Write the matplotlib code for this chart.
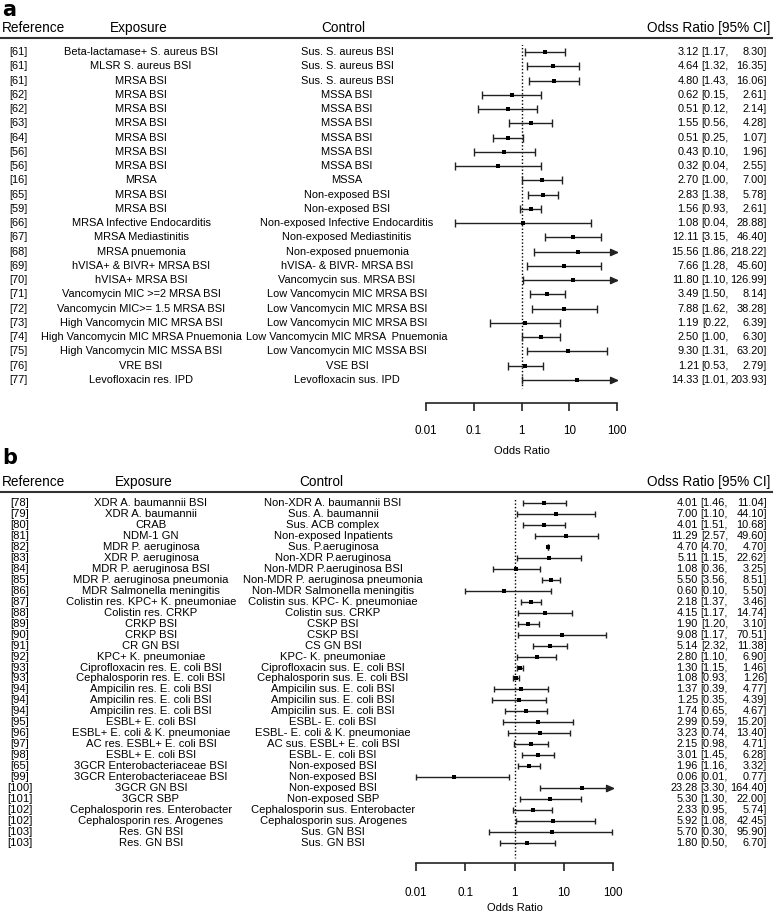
import numpy as np
import matplotlib
matplotlib.use('Agg')
import matplotlib.pyplot as plt
from matplotlib import transforms
from matplotlib.lines import Line2D

plt.rcParams['font.family'] = ['Liberation Sans', 'DejaVu Sans']

W, H = 778, 914

# ---- panel a: Gram-positive ----
a_refs = ['[61]', '[61]', '[61]', '[62]', '[62]', '[63]', '[64]', '[56]', '[56]', '[16]',
          '[65]', '[59]', '[66]', '[67]', '[68]', '[69]', '[70]', '[71]', '[72]', '[73]',
          '[74]', '[75]', '[76]', '[77]']
a_exposure = ['Beta-lactamase+ S. aureus BSI', 'MLSR S. aureus BSI', 'MRSA BSI', 'MRSA BSI',
              'MRSA BSI', 'MRSA BSI', 'MRSA BSI', 'MRSA BSI', 'MRSA BSI', 'MRSA',
              'MRSA BSI', 'MRSA BSI', 'MRSA Infective Endocarditis', 'MRSA Mediastinitis',
              'MRSA pnuemonia', 'hVISA+ & BIVR+ MRSA BSI', 'hVISA+ MRSA BSI',
              'Vancomycin MIC >=2 MRSA BSI', 'Vancomycin MIC>= 1.5 MRSA BSI',
              'High Vancomycin MIC MRSA BSI', 'High Vancomycin MIC MRSA Pnuemonia',
              'High Vancomycin MIC MSSA BSI', 'VRE BSI', 'Levofloxacin res. IPD']
a_control = ['Sus. S. aureus BSI', 'Sus. S. aureus BSI', 'Sus. S. aureus BSI', 'MSSA BSI',
             'MSSA BSI', 'MSSA BSI', 'MSSA BSI', 'MSSA BSI', 'MSSA BSI', 'MSSA',
             'Non-exposed BSI', 'Non-exposed BSI', 'Non-exposed Infective Endocarditis',
             'Non-exposed Mediastinitis', 'Non-exposed pnuemonia', 'hVISA- & BIVR- MRSA BSI',
             'Vancomycin sus. MRSA BSI', 'Low Vancomycin MIC MRSA BSI',
             'Low Vancomycin MIC MRSA BSI', 'Low Vancomycin MIC MRSA BSI',
             'Low Vancomycin MIC MRSA  Pnuemonia', 'Low Vancomycin MIC MSSA BSI',
             'VSE BSI', 'Levofloxacin sus. IPD']
a_or = [3.12, 4.64, 4.80, 0.62, 0.51, 1.55, 0.51, 0.43, 0.32, 2.70, 2.83, 1.56, 1.08,
        12.11, 15.56, 7.66, 11.80, 3.49, 7.88, 1.19, 2.50, 9.30, 1.21, 14.33]
a_lo = [1.17, 1.32, 1.43, 0.15, 0.12, 0.56, 0.25, 0.10, 0.04, 1.00, 1.38, 0.93, 0.04,
        3.15, 1.86, 1.28, 1.10, 1.50, 1.62, 0.22, 1.00, 1.31, 0.53, 1.01]
a_hi = [8.30, 16.35, 16.06, 2.61, 2.14, 4.28, 1.07, 1.96, 2.55, 7.00, 5.78, 2.61, 28.88,
        46.40, 218.22, 45.60, 126.99, 8.14, 38.28, 6.39, 6.30, 63.20, 2.79, 203.93]

# ---- panel b: Gram-negative ----
b_refs = ['[78]', '[79]', '[80]', '[81]', '[82]', '[83]', '[84]', '[85]', '[86]', '[87]',
          '[88]', '[89]', '[90]', '[91]', '[92]', '[93]', '[93]', '[94]', '[94]', '[94]',
          '[95]', '[96]', '[97]', '[98]', '[65]', '[99]', '[100]', '[101]', '[102]', '[102]',
          '[103]', '[103]']
b_exposure = ['XDR A. baumannii BSI', 'XDR A. baumannii', 'CRAB', 'NDM-1 GN',
              'MDR P. aeruginosa', 'XDR P. aeruginosa', 'MDR P. aeruginosa BSI',
              'MDR P. aeruginosa pneumonia', 'MDR Salmonella meningitis',
              'Colistin res. KPC+ K. pneumoniae', 'Colistin res. CRKP', 'CRKP BSI', 'CRKP BSI',
              'CR GN BSI', 'KPC+ K. pneumoniae', 'Ciprofloxacin res. E. coli BSI',
              'Cephalosporin res. E. coli BSI', 'Ampicilin res. E. coli BSI',
              'Ampicilin res. E. coli BSI', 'Ampicilin res. E. coli BSI', 'ESBL+ E. coli BSI',
              'ESBL+ E. coli & K. pneumoniae', 'AC res. ESBL+ E. coli BSI', 'ESBL+ E. coli BSI',
              '3GCR Enterobacteriaceae BSI', '3GCR Enterobacteriaceae BSI', '3GCR GN BSI',
              '3GCR SBP', 'Cephalosporin res. Enterobacter', 'Cephalosporin res. Arogenes',
              'Res. GN BSI', 'Res. GN BSI']
b_control = ['Non-XDR A. baumannii BSI', 'Sus. A. baumannii', 'Sus. ACB complex',
             'Non-exposed Inpatients', 'Sus. P.aeruginosa', 'Non-XDR P.aeruginosa',
             'Non-MDR P.aeruginosa BSI', 'Non-MDR P. aeruginosa pneumonia',
             'Non-MDR Salmonella meningitis', 'Colistin sus. KPC- K. pneumoniae',
             'Colistin sus. CRKP', 'CSKP BSI', 'CSKP BSI', 'CS GN BSI', 'KPC- K. pneumoniae',
             'Ciprofloxacin sus. E. coli BSI', 'Cephalosporin sus. E. coli BSI',
             'Ampicilin sus. E. coli BSI', 'Ampicilin sus. E. coli BSI',
             'Ampicilin sus. E. coli BSI', 'ESBL- E. coli BSI', 'ESBL- E. coli & K. pneumoniae',
             'AC sus. ESBL+ E. coli BSI', 'ESBL- E. coli BSI', 'Non-exposed BSI',
             'Non-exposed BSI', 'Non-exposed BSI', 'Non-exposed SBP',
             'Cephalosporin sus. Enterobacter', 'Cephalosporin sus. Arogenes',
             'Sus. GN BSI', 'Sus. GN BSI']
b_or = [4.01, 7.00, 4.01, 11.29, 4.70, 5.11, 1.08, 5.50, 0.60, 2.18, 4.15, 1.90, 9.08,
        5.14, 2.80, 1.30, 1.08, 1.37, 1.25, 1.74, 2.99, 3.23, 2.15, 3.01, 1.96, 0.06,
        23.28, 5.30, 2.33, 5.92, 5.70, 1.80]
b_lo = [1.46, 1.10, 1.51, 2.57, 4.70, 1.15, 0.36, 3.56, 0.10, 1.37, 1.17, 1.20, 1.17,
        2.32, 1.10, 1.15, 0.93, 0.39, 0.35, 0.65, 0.59, 0.74, 0.98, 1.45, 1.16, 0.01,
        3.30, 1.30, 0.95, 1.08, 0.30, 0.50]
b_hi = [11.04, 44.10, 10.68, 49.60, 4.70, 22.62, 3.25, 8.51, 5.50, 3.46, 14.74, 3.10,
        70.51, 11.38, 6.90, 1.46, 1.26, 4.77, 4.39, 4.67, 15.20, 13.40, 4.71, 6.28, 3.32,
        0.77, 164.40, 22.00, 5.74, 42.45, 95.90, 6.70]

ticks = [0.01, 0.1, 1, 10, 100]
tick_labels = ['0.01', '0.1', '1', '10', '100']

# layout in pixels for each panel
layout_a = dict(label='a', label_y=10, head_y=28, line_y=38, first=52, last=380,
                axis=403, dot_top=44, dot_end=388, x0=426, x1=617,
                ref_x=18, exp_x=141, ctl_x=347, exp_h=139, ctl_h=343,
                or_x=699, lo_x=729, hi_x=767, fs=7.9, cap=3.6, sq=3.2,
                pad=10, lpad=6)
layout_b = dict(label='b', label_y=458, head_y=482, line_y=492, first=503, last=843,
                axis=863, dot_top=496, dot_end=858, x0=416, x1=613,
                ref_x=20, exp_x=151, ctl_x=333, exp_h=144, ctl_h=321,
                or_x=698, lo_x=728, hi_x=767, fs=8.1, cap=3.0, sq=3.0,
                pad=11, lpad=3.5)

ARROW = [(0, 0), (-1, 0.45), (-1, -0.45), (0, 0)]
LC = '#222222'
NUM_FS = 7.9


def fx(px):
    return px / W


def fy(py):
    return 1 - py / H


def forest(fig, p, refs, expo, ctrl, est, lo, hi):
    n = len(refs)
    sp = (p['last'] - p['first']) / (n - 1)
    top = p['first'] - 0.5 * sp
    ax = fig.add_axes([fx(p['x0']), fy(p['axis']), (p['x1'] - p['x0']) / W,
                       (p['axis'] - top) / H])
    ax.set_xscale('log')
    ax.set_xlim(0.01, 100)
    ax.set_ylim(n - 1 + (p['axis'] - p['last']) / sp, -0.5)
    ax.patch.set_visible(False)
    for s in ['top', 'left', 'right']:
        ax.spines[s].set_visible(False)
    ax.spines['bottom'].set_linewidth(1.2)
    ax.spines['bottom'].set_color(LC)
    ax.set_yticks([])
    ax.set_xticks(ticks)
    ax.set_xticklabels(tick_labels)
    ax.minorticks_off()
    ax.tick_params(axis='x', direction='out', length=6, width=1.2, color=LC,
                   labelsize=8.4, pad=p['pad'])
    ax.set_xlabel('Odds Ratio', fontsize=8, labelpad=p['lpad'])

    # reference line at OR = 1
    y_top = (p['dot_top'] - p['first']) / sp
    y_end = (p['dot_end'] - p['first']) / sp
    ax.vlines(1, y_top, y_end, colors='black', linestyles=(0, (1, 1.5)), lw=1)

    rows = np.arange(n)
    est = np.array(est)
    lo = np.array(lo)
    hi = np.array(hi)
    hi_c = np.minimum(hi, 100)
    ax.hlines(rows, lo, hi_c, colors=LC, lw=1, clip_on=False)
    ax.plot(lo, rows, '|', color=LC, ms=p['cap'] * 1.6, mew=1, clip_on=False)
    cut = hi > 100
    ax.plot(hi_c[~cut], rows[~cut], '|', color=LC, ms=p['cap'] * 1.6, mew=1, clip_on=False)
    ax.plot(hi_c[cut], rows[cut], marker=ARROW, ls='none', color=LC, ms=10, clip_on=False)
    ax.plot(est, rows, 's', color='black', ms=p['sq'], mew=0, clip_on=False)

    # text columns
    tr = transforms.blended_transform_factory(fig.transFigure, ax.transData)
    fs = p['fs']
    for i in range(n):
        ax.text(fx(p['ref_x']), i, refs[i], transform=tr, ha='center', va='center', fontsize=fs)
        ax.text(fx(p['exp_x']), i, expo[i], transform=tr, ha='center', va='center', fontsize=fs)
        ax.text(fx(p['ctl_x']), i, ctrl[i], transform=tr, ha='center', va='center', fontsize=fs)
        ax.text(fx(p['or_x']), i, f'{est[i]:.2f}', transform=tr, ha='right', va='center',
                fontsize=NUM_FS)
        ax.text(fx(p['lo_x']), i, f'[{lo[i]:.2f},', transform=tr, ha='right', va='center',
                fontsize=NUM_FS)
        ax.text(fx(p['hi_x']), i, f'{hi[i]:.2f}]', transform=tr, ha='right', va='center',
                fontsize=NUM_FS)

    # headers
    fig.text(fx(2), fy(p['label_y']), p['label'], fontsize=15, fontweight='bold',
             ha='left', va='center', family='DejaVu Sans')
    hs = 9.8
    fig.text(fx(2), fy(p['head_y']), 'Reference', fontsize=hs, ha='left', va='center')
    fig.text(fx(p['exp_h']), fy(p['head_y']), 'Exposure', fontsize=hs, ha='center', va='center')
    fig.text(fx(p['ctl_h']), fy(p['head_y']), 'Control', fontsize=hs, ha='center', va='center')
    fig.text(fx(770), fy(p['head_y']), 'Odss Ratio [95% CI]', fontsize=hs, ha='right', va='center')
    fig.add_artist(Line2D([0, fx(772)], [fy(p['line_y'])] * 2, color='#333333', lw=1.5))
    return ax


fig = plt.figure(figsize=(W / 100, H / 100), dpi=100)
forest(fig, layout_a, a_refs, a_exposure, a_control, a_or, a_lo, a_hi)
forest(fig, layout_b, b_refs, b_exposure, b_control, b_or, b_lo, b_hi)
fig.savefig('out.png', dpi=100)
